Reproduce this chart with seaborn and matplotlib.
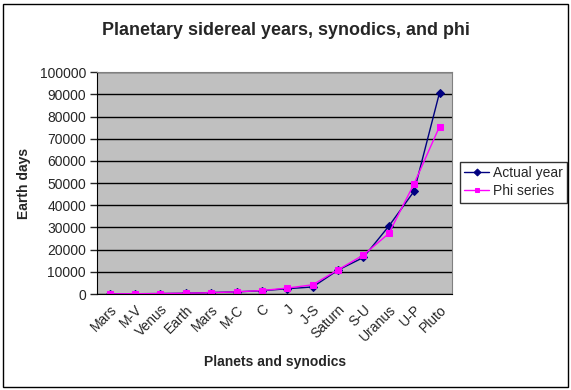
import matplotlib
matplotlib.use("Agg")
import matplotlib.pyplot as plt
import seaborn as sns
import numpy as np
from matplotlib.patches import Rectangle

# values
labels = ["Mars", "M-V", "Venus", "Earth", "Mars", "M-C", "C", "J", "J-S",
          "Saturn", "S-U", "Uranus", "U-P", "Pluto"]
actual_year = [88, 145, 225, 365, 687, 1000, 1500, 2400, 3200,
               10800, 16500, 30600, 46400, 90800]
phi_series = [89, 144, 233, 377, 610, 987, 1597, 2700, 4181,
              10946, 17600, 27300, 49800, 75500]

sns.set_style("white")
plt.rcParams["font.family"] = ["Liberation Sans", "DejaVu Sans"]

fig = plt.figure(figsize=(5.71, 3.90), dpi=100)
ax = fig.add_axes([0.170, 0.246, 0.622, 0.569])
ax.set_facecolor("#c0c0c0")

pos = np.arange(len(labels))
sns.lineplot(x=pos, y=actual_year, ax=ax, color="#000080", marker="D",
             markersize=4, markeredgecolor="#000080", linewidth=1,
             label="Actual year")
sns.lineplot(x=pos, y=phi_series, ax=ax, color="#ff00ff", marker="s",
             markersize=5, markeredgecolor="#ff00ff", linewidth=1,
             label="Phi series")

ax.set_xlim(-0.5, len(labels) - 0.5)
ax.set_ylim(0, 100000)
ax.set_yticks(np.arange(0, 100001, 10000))
ax.set_yticklabels([str(v) for v in range(0, 100001, 10000)], fontsize=10)
ax.yaxis.grid(True, color="black", linewidth=1)
ax.set_axisbelow(True)

ax.set_xticks(pos)
ax.set_xticklabels(labels, rotation=45, ha="right", rotation_mode="anchor",
                   fontsize=10)
ax.set_xticks(np.arange(-0.5, len(labels)), minor=True)
ax.tick_params(axis="x", which="major", length=0, pad=6)
ax.tick_params(axis="x", which="minor", length=5, direction="out", width=1)
ax.tick_params(axis="y", length=5, direction="out", width=1, left=True, pad=3)

for side in ["top", "right"]:
    ax.spines[side].set_color("#808080")
for side in ["left", "bottom"]:
    ax.spines[side].set_color("black")

ax.set_xlabel("Planets and synodics", fontsize=10, fontweight="bold", labelpad=8)
ax.set_ylabel("Earth days", fontsize=10, fontweight="bold", labelpad=6)
fig.text(0.5, 0.922, "Planetary sidereal years, synodics, and phi",
         ha="center", va="center", fontsize=12.9, fontweight="bold")

leg = ax.legend(loc="upper left", bbox_to_anchor=(1.022, 0.595), fontsize=10,
                frameon=True, fancybox=False, borderpad=0.3, handlelength=1.8,
                handletextpad=0.3, labelspacing=0.3, borderaxespad=0)
leg.get_frame().set_edgecolor("black")
leg.get_frame().set_linewidth(1)
for h in leg.legend_handles:
    h.set_markersize(3.5)

fig.patches.append(Rectangle((0.006, 0.008), 0.988, 0.982, transform=fig.transFigure,
                             fill=False, edgecolor="black", linewidth=1))

fig.savefig("out.png", dpi=100, facecolor="white")
